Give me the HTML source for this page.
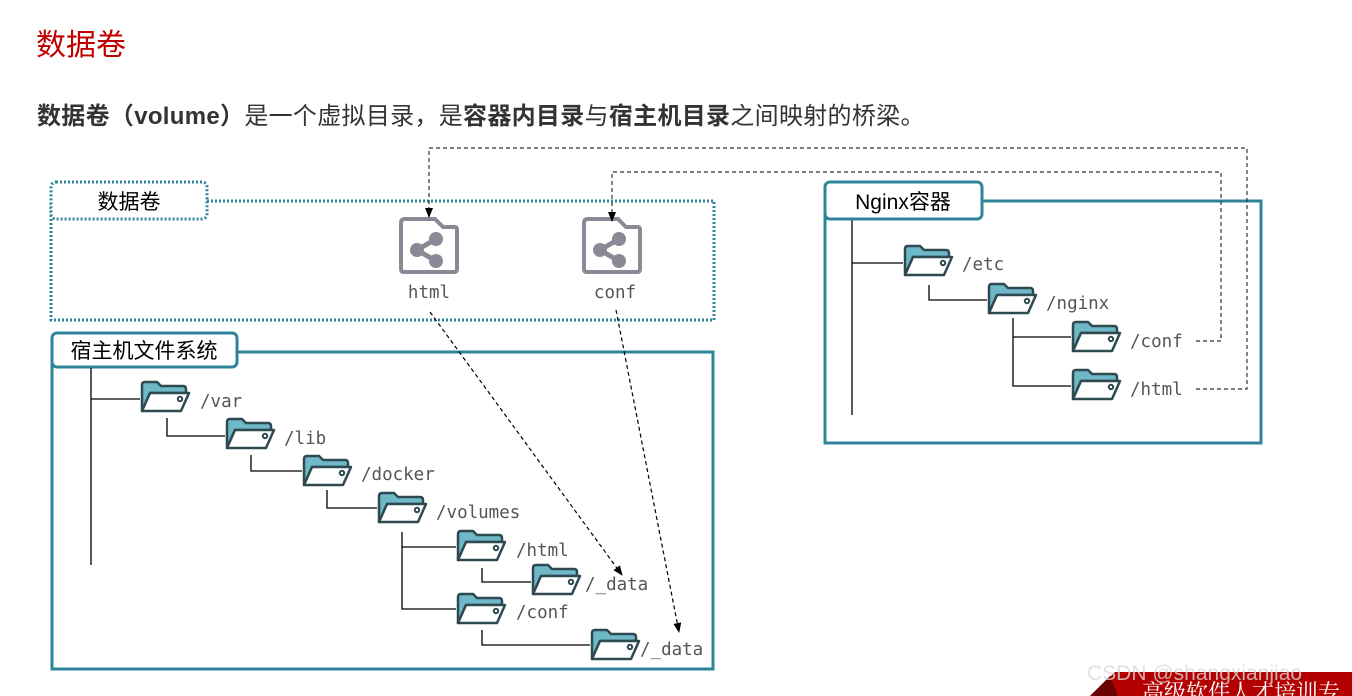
<!DOCTYPE html>
<html><head><meta charset="utf-8"><style>
body{margin:0;width:1352px;height:696px;background:#fff;overflow:hidden;position:relative;font-family:"Liberation Sans","Noto Sans CJK SC",sans-serif}
.t{position:absolute;white-space:nowrap}
</style></head><body>
<div class="t" style="left:36px;top:20px;font-size:30px;color:#c00000">数据卷</div>
<div class="t" style="left:37px;top:96px;font-size:24px;letter-spacing:0.3px;color:#333">
<b>数据卷（volume）</b>是一个虚拟目录，是<b>容器内目录</b>与<b>宿主机目录</b>之间映射的桥梁。</div>
<svg width="1352" height="696" style="position:absolute;left:0;top:0" font-family="DejaVu Sans Mono, Liberation Mono, monospace">
<defs>
<marker id="b" markerWidth="10" markerHeight="10" refX="9" refY="5" orient="auto" markerUnits="userSpaceOnUse"><path d="M0,1 L10,5 L0,9 Z" fill="#000"/></marker>
<g id="f">
<path d="M2,30 L2,4 Q2,1 5,1 L17,1 L21,5 L43,5 Q46,5 46,8 L46,12 L10,12 L2,30 Z" fill="#6fb8c8" stroke="#2e4a50" stroke-width="2.5" stroke-linejoin="round"/>
<path d="M2,30 L10,12 L49,12 L41,30 Z" fill="#fff" stroke="#2e4a50" stroke-width="2.5" stroke-linejoin="round"/>
<circle cx="40" cy="18" r="2.2" fill="#fff" stroke="#2e4a50" stroke-width="2"/>
</g>
<g id="s">
<path d="M6,2 L36,2 L44,10 L56,10 Q58,10 58,13 L58,52 Q58,55 55,55 L5,55 Q2,55 2,52 L2,6 Q2,2 6,2 Z" fill="#fff" stroke="#8a8a96" stroke-width="4" stroke-linejoin="round"/>
<g stroke="#8a8a96" stroke-width="5"><line x1="18" y1="33" x2="37" y2="22"/><line x1="18" y1="33" x2="37" y2="44"/></g>
<g fill="#8a8a96"><circle cx="18" cy="33" r="7"/><circle cx="37" cy="22" r="7"/><circle cx="37" cy="44" r="7"/></g>
</g>
</defs>
<rect x="51" y="201" width="663" height="119" fill="none" stroke="#2e8599" stroke-width="3" stroke-dasharray="2,2"/>
<rect x="51" y="182" width="156" height="37" rx="5" fill="#fff" stroke="#2e8599" stroke-width="3" stroke-dasharray="2,2"/>
<text x="129" y="209" font-size="21" text-anchor="middle" font-family="Liberation Sans, Noto Sans CJK SC, sans-serif">数据卷</text>
<use href="#s" x="399" y="217"/>
<use href="#s" x="582" y="217"/>
<text x="429" y="298" font-size="17.5" fill="#555" text-anchor="middle">html</text>
<text x="615" y="298" font-size="17.5" fill="#555" text-anchor="middle">conf</text>
<rect x="52" y="352" width="661" height="317" fill="none" stroke="#2e8599" stroke-width="3"/>
<rect x="52" y="333" width="185" height="34" rx="5" fill="#fff" stroke="#2e8599" stroke-width="3"/>
<text x="144" y="358" font-size="21" text-anchor="middle" font-family="Liberation Sans, Noto Sans CJK SC, sans-serif">宿主机文件系统</text>
<g stroke="#000" stroke-width="1.3" fill="none">
<path d="M91,368 V565 M91,399 H140"/>
<path d="M167,418 V436 H225"/>
<path d="M251,455 V471 H302"/>
<path d="M327,490 V508 H377"/>
<path d="M402,532 V609 H456 M402,547 H456"/>
<path d="M482,568 V582 H531"/>
<path d="M482,630 V645 H590"/>
<path d="M852,219 V415 M852,263 H903"/>
<path d="M929,285 V300 H987"/>
<path d="M1013,318 V386 H1071 M1013,337 H1071"/>
</g>
<use href="#f" x="140" y="381"/>
<use href="#f" x="225" y="418"/>
<use href="#f" x="302" y="455"/>
<use href="#f" x="377" y="492"/>
<use href="#f" x="456" y="530"/>
<use href="#f" x="531" y="564"/>
<use href="#f" x="456" y="593"/>
<use href="#f" x="590" y="629"/>
<g font-size="17.5" fill="#555">
<text x="200" y="407">/var</text>
<text x="284" y="444">/lib</text>
<text x="361" y="480">/docker</text>
<text x="436" y="518">/volumes</text>
<text x="516" y="556">/html</text>
<text x="585" y="590">/_data</text>
<text x="516" y="618">/conf</text>
<text x="640" y="655">/_data</text>
<text x="962" y="270">/etc</text>
<text x="1046" y="309">/nginx</text>
<text x="1130" y="347">/conf</text>
<text x="1130" y="395">/html</text>
</g>
<rect x="825" y="201" width="436" height="242" fill="none" stroke="#2e8599" stroke-width="3"/>
<rect x="825" y="182" width="157" height="37" rx="5" fill="#fff" stroke="#2e8599" stroke-width="3"/>
<text x="903" y="209" font-size="21" text-anchor="middle" font-family="Liberation Sans, Noto Sans CJK SC, sans-serif">Nginx容器</text>
<use href="#f" x="903" y="245"/>
<use href="#f" x="987" y="283"/>
<use href="#f" x="1071" y="321"/>
<use href="#f" x="1071" y="369"/>
<g stroke="#333" stroke-width="1.2" fill="none" stroke-dasharray="4,3">
<path d="M1196,341 H1221 V172 H612 V221" marker-end="url(#b)"/>
<path d="M1196,389 H1247 V148 H429 V217" marker-end="url(#b)"/>
<path d="M430,312 L622,575" stroke="#000" marker-end="url(#b)"/>
<path d="M616,310 L679,632" stroke="#000" marker-end="url(#b)"/>
</g>
<path d="M1090,696 L1115,672 L1352,672 L1352,696 Z" fill="#b30000"/>
<path d="M1090,696 L1110,676 L1118,696 Z" fill="#6a0000"/>
<text x="1142" y="700" font-size="22" fill="#fff" font-family="Noto Serif CJK SC, serif">高级软件人才培训专</text>
<text x="1087" y="680" font-size="21" fill="#d8d8d8" fill-opacity="0.8" font-family="Liberation Sans, sans-serif">CSDN @shangxianjiao</text>
</svg>
</body></html>
